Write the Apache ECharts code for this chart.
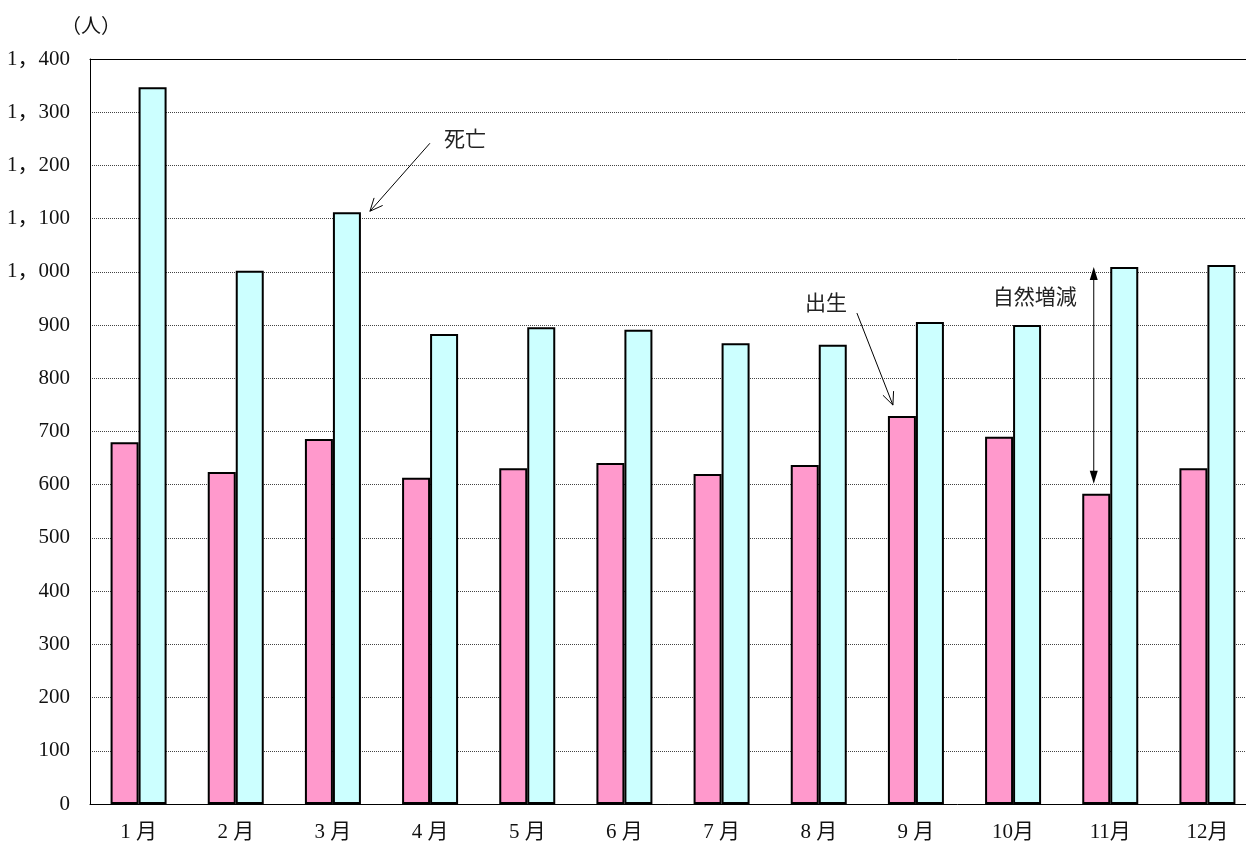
<!DOCTYPE html>
<html>
<head>
<meta charset="utf-8">
<script src="https://cdn.jsdelivr.net/npm/echarts@6/dist/echarts.min.js"></script>
<style>
html,body{margin:0;padding:0;background:#fff;overflow:hidden;}
#chart{width:1246px;height:844px;}
</style>
</head>
<body>
<div id="chart"></div>
<script>
var months = ['1 月','2 月','3 月','4 月','5 月','6 月','7 月','8 月','9 月','10月','11月','12月'];
var births = [680, 624, 686, 613, 631, 641, 620, 637, 729, 690, 583, 631];
var deaths = [1347, 1002, 1112, 883, 896, 891, 866, 863, 906, 900, 1009, 1013];
var yTicks = [0,100,200,300,400,500,600,700,800,900,1000,1100,1200,1300,1400];
var yTickLabels = ['0','100','200','300','400','500','600','700','800','900','1，000','1，100','1，200','1，300','1，400'];
var unitLabel = '（人）';
var deathLabel = '死亡';
var birthLabel = '出生';
var diffLabel = '自然増減';

var serif = '"Liberation Serif", "DejaVu Serif", "Noto Sans CJK JP", serif';
var jp = '"Noto Sans CJK JP", sans-serif';

var chart = echarts.init(document.getElementById('chart'), null, {renderer:'canvas'});
chart.setOption({
  animation: false,
  backgroundColor: '#fff',
  grid: {left: 90, width: 1166, top: 59, height: 745, containLabel: false, outerBoundsMode: 'none'},
  xAxis: [{
    type: 'category',
    data: months,
    boundaryGap: true,
    axisLine: {show: true, lineStyle: {color: '#000', width: 1}},
    axisTick: {show: false},
    axisLabel: {color: '#111', fontFamily: serif, fontSize: 21, margin: 18}
  }, {
    type: 'category',
    position: 'top',
    data: months,
    axisLine: {show: true, onZero: false, lineStyle: {color: '#000', width: 1}},
    axisTick: {show: false},
    axisLabel: {show: false}
  }],
  yAxis: {
    type: 'value',
    min: 0, max: 1400, interval: 100,
    axisLine: {show: true, lineStyle: {color: '#000', width: 1}},
    axisTick: {show: false},
    axisLabel: {
      color: '#111', fontFamily: serif, fontSize: 21, margin: 20,
      formatter: function (v) { var i = yTicks.indexOf(v); return i >= 0 ? yTickLabels[i] : ''; }
    },
    splitLine: {show: true, lineStyle: {color: '#444', type: [1, 1], width: 1}}
  },
  series: [{
    name: birthLabel, type: 'bar', data: births, barWidth: 28, barGap: '0%',
    itemStyle: {color: '#FF99CC', borderColor: '#000', borderWidth: 2}
  }, {
    name: deathLabel, type: 'bar', data: deaths, barWidth: 28, barGap: '0%',
    itemStyle: {color: '#CCFFFF', borderColor: '#000', borderWidth: 2}
  }]
});

function px(i, v) { return chart.convertToPixel({xAxisIndex: 0, yAxisIndex: 0}, [i, v]); }
function openArrow(x1, y1, x2, y2) {
  var a = Math.atan2(y2 - y1, x2 - x1), L = 14, w = 0.42;
  return [
    {type: 'line', shape: {x1: x1, y1: y1, x2: x2, y2: y2}, style: {stroke: '#000', lineWidth: 1}, silent: true},
    {type: 'polyline', shape: {points: [
      [x2 - L * Math.cos(a - w), y2 - L * Math.sin(a - w)], [x2, y2],
      [x2 - L * Math.cos(a + w), y2 - L * Math.sin(a + w)]]}, style: {stroke: '#000', fill: null, lineWidth: 1}, silent: true}
  ];
}
var g = [];
var yTop = px(0, 1400)[1];
g.push({type: 'text', left: 61, top: yTop - 44, style: {text: unitLabel, font: '20px ' + jp, fill: '#111'}});

// 死亡 annotation anchored to March death bar
var d = px(2, deaths[2]);
var dTip = [d[0] + 37, d[1] - 1];
var dTail = [dTip[0] + 60, dTip[1] - 68];
g = g.concat(openArrow(dTail[0], dTail[1], dTip[0], dTip[1]));
g.push({type: 'text', x: dTail[0] + 35, y: dTail[1] - 5, style: {text: deathLabel, font: '21px ' + jp, fill: '#222', align: 'center', verticalAlign: 'middle'}});

// 出生 annotation anchored to September birth bar
var b = px(8, births[8]);
var bTip = [b[0] - 23, b[1] - 11];
var bTail = [bTip[0] - 36, bTip[1] - 92];
g = g.concat(openArrow(bTail[0], bTail[1], bTip[0], bTip[1]));
g.push({type: 'text', x: bTail[0] - 31, y: bTail[1] - 11, style: {text: birthLabel, font: '21px ' + jp, fill: '#222', align: 'center', verticalAlign: 'middle'}});

// 自然増減 double arrow on November
var nTop = px(10, deaths[10]);
var nBot = px(10, births[10]);
var ax = nTop[0] - 16.5;
var y1 = nTop[1], y2 = nBot[1] - 10;
g.push({type: 'line', shape: {x1: ax, y1: y1 + 8, x2: ax, y2: y2 - 8}, style: {stroke: '#000', lineWidth: 1}, silent: true});
g.push({type: 'polygon', shape: {points: [[ax, y1], [ax - 4, y1 + 13], [ax + 4, y1 + 13]]}, style: {fill: '#000'}, silent: true});
g.push({type: 'polygon', shape: {points: [[ax, y2], [ax - 4, y2 - 13], [ax + 4, y2 - 13]]}, style: {fill: '#000'}, silent: true});
g.push({type: 'text', x: ax - 59, y: y1 + 29, style: {text: diffLabel, font: '21px ' + jp, fill: '#222', align: 'center', verticalAlign: 'middle'}});

chart.setOption({graphic: g});
</script>
</body>
</html>
